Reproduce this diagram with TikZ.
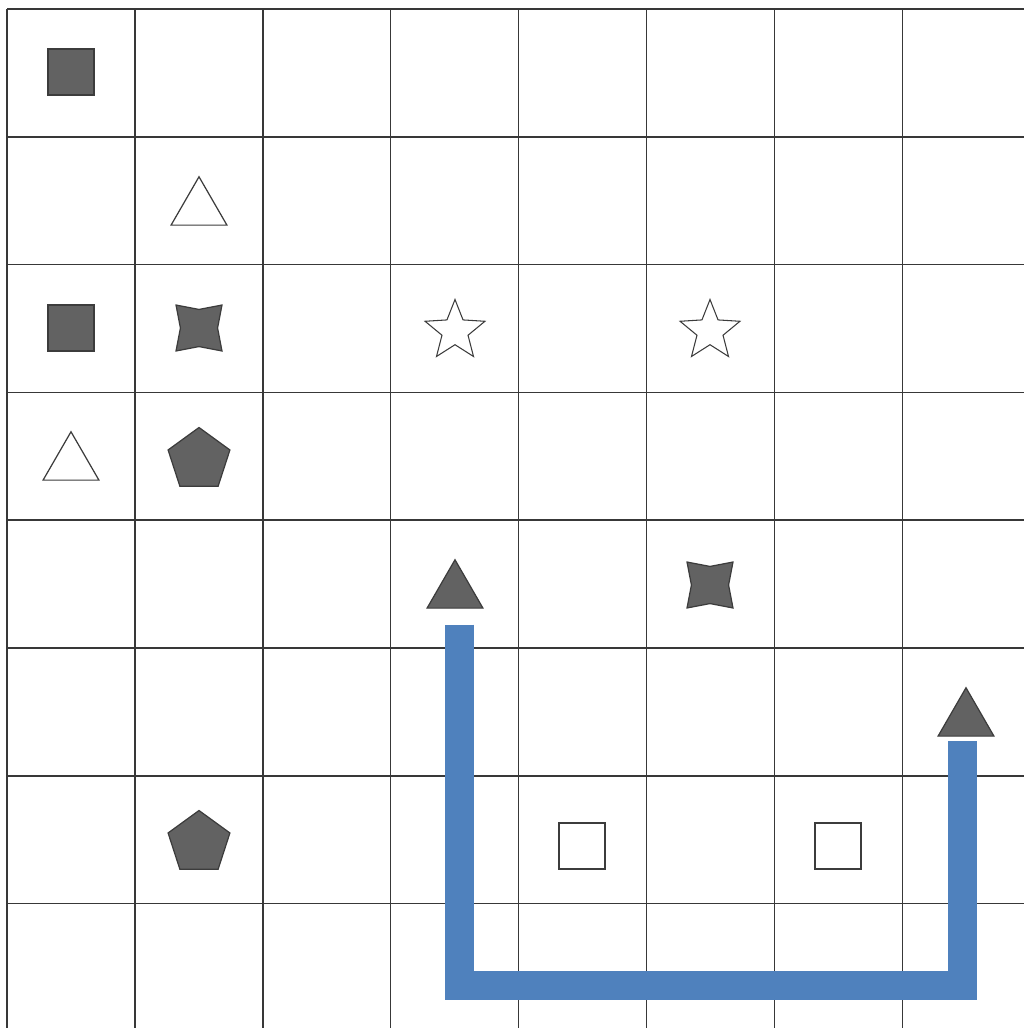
\documentclass[tikz,border=0pt]{standalone}
\usepackage{tikz}
\usetikzlibrary{shapes.geometric, calc}

\definecolor{markgray}{HTML}{626262}
\definecolor{markedge}{HTML}{3C3C3C}
\definecolor{pathblue}{HTML}{4F81BD}
\definecolor{rulegray}{HTML}{383838}

\begin{document}
\begin{tikzpicture}[x=0.02cm, y=-0.02cm,
    gridrule/.style={draw=rulegray, line width=0.9pt},
    sq/.style={draw=markedge, fill=#1, minimum size=0.92cm, inner sep=0pt, line width=0.7pt},
    tri/.style={regular polygon, regular polygon sides=3, draw=markedge, fill=#1, minimum size=1.29cm, inner sep=0pt, line width=0.7pt},
    pent/.style={regular polygon, regular polygon sides=5, draw=markedge, fill=markgray, minimum size=1.3cm, inner sep=0pt, line width=0.7pt},
    fivestar/.style={star, star points=5, star point ratio=2.3, draw=markedge, fill=white, minimum size=1.26cm, inner sep=0pt, line width=0.6pt},
    fourstar/.style={star, star points=4, star point ratio=1.75, shape border rotate=45, draw=markedge, fill=markgray, minimum size=1.3cm, inner sep=0pt, line width=0.7pt},
    route/.style={draw=pathblue, line width=0.58cm, line join=miter},
]
\useasboundingbox (0,0) rectangle (1024,1028);
% Grid
\foreach \i in {0,...,7} {
    \draw[gridrule] ({7+127.9*\i},9) -- ({7+127.9*\i},1028);
    \draw[gridrule] (7,{9+127.8*\i}) -- (1024,{9+127.8*\i});
}
% Row 1-2
\node[sq=markgray] (sqA) at (71,72) {};
\node[tri=white] (tOpenA) at (199,209) {};
% Row 3
\node[sq=markgray] (sqB) at (71,328) {};
\node[fourstar] (fsA) at (199,328) {};
\node[fivestar] (starA) at (455,331) {};
\node[fivestar] (starB) at (710,331) {};
% Row 4
\node[tri=white] (tOpenB) at (71,464) {};
\node[pent] (pentA) at (199,460) {};
% Row 5-6
\node[tri=markgray] (tA) at (455,592) {};
\node[fourstar] (fsB) at (710,585) {};
\node[tri=markgray] (tB) at (966,720) {};
% Row 7
\node[pent] (pentB) at (199,843) {};
\node[sq=white] (sqOpenA) at (582,846) {};
\node[sq=white] (sqOpenB) at (838,846) {};
% Route
\draw[route] ([xshift=0.08cm,yshift=-0.32cm]tA.south) -- ++(0,361) -| ([xshift=-0.08cm,yshift=-0.08cm]tB.south);
\end{tikzpicture}
\end{document}
